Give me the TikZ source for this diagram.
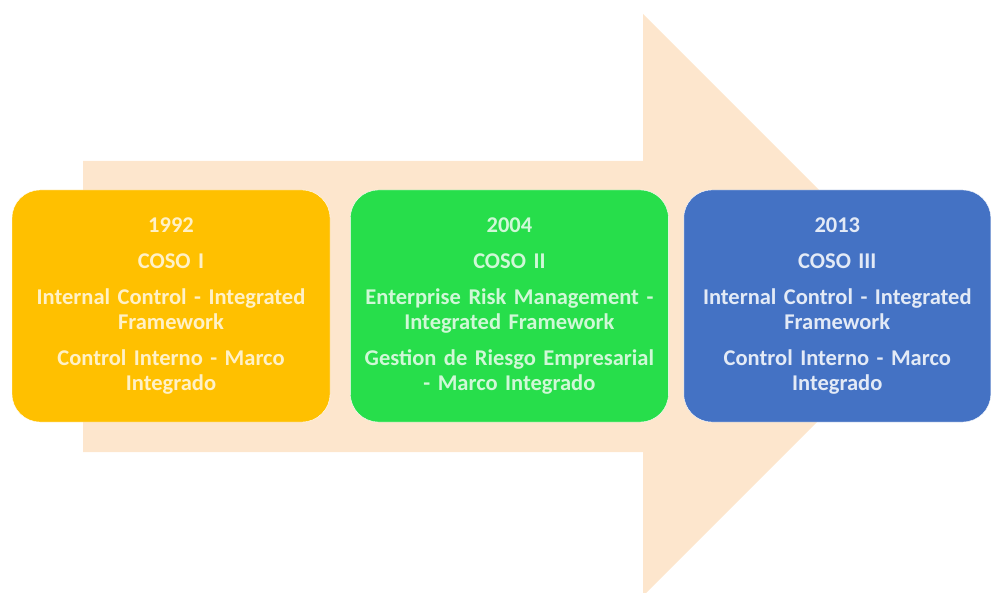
\documentclass[tikz,border=0pt]{standalone}
\usepackage{fontspec}
\setmainfont[WordSpace=0.8]{Carlito}
\usetikzlibrary{positioning}
\definecolor{arrowfill}{HTML}{FDE6CD}
\definecolor{cosoorange}{HTML}{FFC000}
\definecolor{cosogreen}{HTML}{27DE4B}
\definecolor{cosoblue}{HTML}{4472C4}
\tikzstyle{coso}=[rectangle,rounded corners=28pt,draw=white,thin,inner sep=3pt,
  align=center,minimum height=232pt,text width=300pt,
  font=\fontsize{22.5}{25}\selectfont\bfseries]

\begin{document}
\begin{tikzpicture}[x=1pt,y=-1pt]
    \useasboundingbox (0,0) rectangle (995,593);

    % big arrow behind the boxes
    \fill[arrowfill] (83,161) -- (643,161) -- (643,14) -- (934,305)
      -- (643,596) -- (643,452) -- (83,452) -- cycle;

    \node[coso,fill=cosoorange,text=white!78!cosoorange,minimum width=318pt] (coso1) at (171,306)
      {1992\\[11pt] COSO I\\[11pt] Internal Control - Integrated\\ Framework\\[11pt]
       Control Interno - Marco\\ Integrado};
    \node[coso,fill=cosogreen,text=white!78!cosogreen,minimum width=318pt] (coso2) [right=20pt of coso1]
      {2004\\[11pt] COSO II\\[11pt] Enterprise Risk Management -\\ Integrated Framework\\[11pt]
       Gestion de Riesgo Empresarial\\ - Marco Integrado};
    \node[coso,fill=cosoblue,text=white!85!cosoblue,minimum width=307pt] (coso3) [right=15pt of coso2]
      {2013\\[11pt] COSO III\\[11pt] Internal Control - Integrated\\ Framework\\[11pt]
       Control Interno - Marco\\ Integrado};
\end{tikzpicture}
\end{document}
